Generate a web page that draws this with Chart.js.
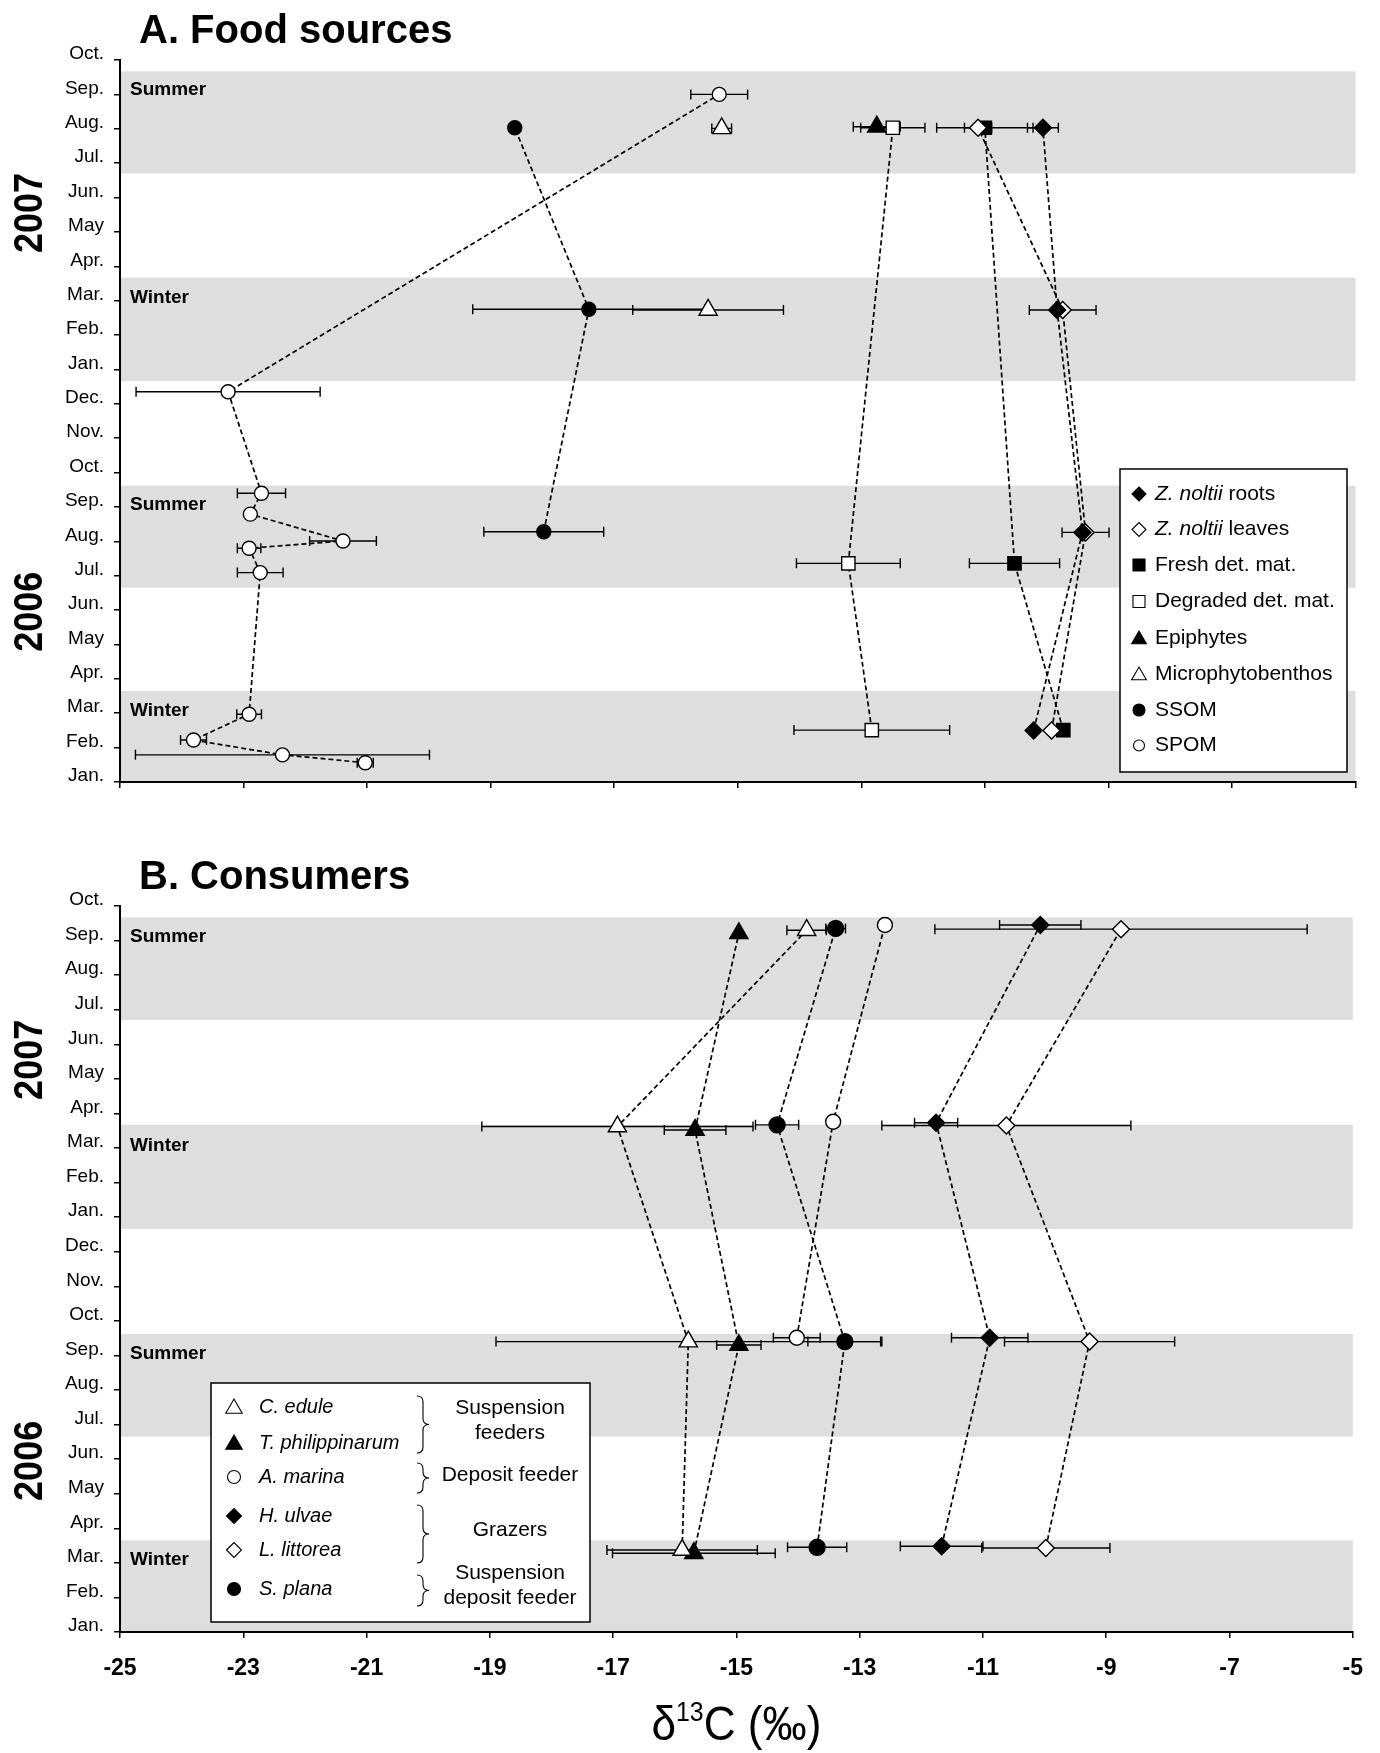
<!DOCTYPE html>
<html>
<head>
<meta charset="utf-8">
<script src="https://cdn.jsdelivr.net/npm/chart.js@4.4.1/dist/chart.umd.min.js"></script>
<style>
  html, body { margin: 0; padding: 0; background: #fff; }
  #wrap { position: relative; width: 1380px; height: 1753px; }
  canvas { position: absolute; left: 0; }
  #chartA { top: 0; }
  #chartB { top: 830px; }
</style>
</head>
<body>
<div id="wrap">
  <canvas id="chartA" width="1380" height="830"></canvas>
  <canvas id="chartB" width="1380" height="923"></canvas>
</div>
<script>
// —— axes ——
const monthLabels = ['Jan.','Feb.','Mar.','Apr.','May','Jun.','Jul.','Aug.','Sep.','Oct.','Nov.','Dec.',
                     'Jan.','Feb.','Mar.','Apr.','May','Jun.','Jul.','Aug.','Sep.','Oct.'];
const xMin = -25, xMax = -5, xStep = 2;

// seasons (month index, 0 = Jan. 2006)
const seasonFrom  = [0, 5.65, 11.66, 17.70];
const seasonTo    = [2.65, 8.62, 14.67, 20.67];
const seasonNames = ['Winter', 'Summer', 'Winter', 'Summer'];
const seasonLabelAt = [2.08, 8.05, 14.07, 20.12];
const yearNames = ['2006', '2007'];
const yearLabelAt = [4.95, 16.55];

// —— A. Food sources ——
const rootsMonth    = [1.50, 7.26, 13.73, 19.03];
const rootsD13C     = [-10.21, -9.42, -9.83, -10.06];
const rootsSD       = [0, 0, 0, 0.25];
const leavesMonth   = [1.50, 7.26, 13.73, 19.03];
const leavesD13C    = [-9.92, -9.37, -9.74, -11.11];
const leavesSD      = [0, 0.38, 0.54, 0.22];
const freshMonth    = [1.51, 6.36, 19.03];
const freshD13C     = [-9.73, -10.52, -11.00];
const freshSD       = [0, 0.73, 0.78];
const degradedMonth = [1.51, 6.36, 19.03];
const degradedD13C  = [-12.83, -13.21, -12.49];
const degradedSD    = [1.26, 0.84, 0.52];
const epiMonth      = [19.06];
const epiD13C       = [-12.75];
const epiSD         = [0.38];
const mpbMonth      = [13.73, 19.01];
const mpbD13C       = [-15.48, -15.26];
const mpbSD         = [1.22, 0.16];
const ssomMonth     = [7.28, 13.75, 19.03];
const ssomD13C      = [-18.14, -17.41, -18.61];
const ssomSD        = [0.97, 1.88, 0];
const spomMonth     = [0.56, 0.79, 1.22, 1.97, 6.09, 6.80, 7.01, 7.79, 8.40, 11.35, 20.00];
const spomD13C      = [-21.03, -22.37, -23.81, -22.91, -22.73, -22.91, -21.39, -22.89, -22.71, -23.25, -15.30];
const spomSD        = [0.13, 2.38, 0.21, 0.20, 0.37, 0.19, 0.54, 0, 0.39, 1.49, 0.46];

// —— B. Consumers ——
const eduleMonth    = [2.37, 8.40, 14.62, 20.30];
const eduleD13C     = [-15.88, -15.78, -16.93, -13.86];
const eduleSD       = [1.22, 3.12, 2.20, 0.32];
const philMonth     = [2.28, 8.30, 14.52, 20.21];
const philD13C      = [-15.69, -14.96, -15.67, -14.96];
const philSD        = [1.32, 0.36, 0.50, 0];
const marinaMonth   = [8.51, 14.76, 20.45];
const marinaD13C    = [-14.02, -13.43, -12.59];
const marinaSD      = [0.38, 0, 0];
const ulvaeMonth    = [2.48, 8.51, 14.73, 20.45];
const ulvaeD13C     = [-11.67, -10.89, -11.76, -10.07];
const ulvaeSD       = [0.67, 0.62, 0.35, 0.66];
const littoreaMonth = [2.43, 8.40, 14.65, 20.33];
const littoreaD13C  = [-9.98, -9.27, -10.62, -8.76];
const littoreaSD    = [1.04, 1.38, 2.02, 3.02];
const planaMonth    = [2.45, 8.40, 14.67, 20.35];
const planaD13C     = [-13.69, -13.24, -14.34, -13.39];
const planaSD       = [0.48, 0.60, 0.35, 0.16];

const FONT = '"Liberation Sans", Arial, Helvetica, sans-serif';

function makeSet(parts, months, vals, sds, shape, filled, r, joined) {
  return {
    label: parts.map(p => p[0]).join(''),
    legendParts: parts,
    shape: shape, filled: filled,
    data: months.map((m, i) => ({ x: vals[i], y: m })),
    errX: sds,
    showLine: joined,
    borderColor: '#000',
    borderWidth: 1.7,
    borderDash: [5, 3],
    tension: 0,
    pointStyle: shape,
    pointRadius: r,
    pointHoverRadius: r,
    pointBackgroundColor: filled ? '#000' : '#fff',
    pointBorderColor: '#000',
    pointBorderWidth: 1.4
  };
}

const foodSets = [
  makeSet([['Z. noltii', 1], [' roots', 0]], rootsMonth, rootsD13C, rootsSD, 'rectRot', true, 8.5, true),
  makeSet([['Z. noltii', 1], [' leaves', 0]], leavesMonth, leavesD13C, leavesSD, 'rectRot', false, 8.5, true),
  makeSet([['Fresh det. mat.', 0]], freshMonth, freshD13C, freshSD, 'rect', true, 9.4, true),
  makeSet([['Degraded det. mat.', 0]], degradedMonth, degradedD13C, degradedSD, 'rect', false, 9.4, true),
  makeSet([['Epiphytes', 0]], epiMonth, epiD13C, epiSD, 'triangle', true, 10.5, false),
  makeSet([['Microphytobenthos', 0]], mpbMonth, mpbD13C, mpbSD, 'triangle', false, 10.5, false),
  makeSet([['SSOM', 0]], ssomMonth, ssomD13C, ssomSD, 'circle', true, 7, true),
  makeSet([['SPOM', 0]], spomMonth, spomD13C, spomSD, 'circle', false, 7, true)
];

const consumerSets = [
  makeSet([['C. edule', 1]], eduleMonth, eduleD13C, eduleSD, 'triangle', false, 10.5, true),
  makeSet([['T. philippinarum', 1]], philMonth, philD13C, philSD, 'triangle', true, 10.5, true),
  makeSet([['A. marina', 1]], marinaMonth, marinaD13C, marinaSD, 'circle', false, 7.5, true),
  makeSet([['H. ulvae', 1]], ulvaeMonth, ulvaeD13C, ulvaeSD, 'rectRot', true, 8.5, true),
  makeSet([['L. littorea', 1]], littoreaMonth, littoreaD13C, littoreaSD, 'rectRot', false, 8.5, true),
  makeSet([['S. plana', 1]], planaMonth, planaD13C, planaSD, 'circle', true, 8, true)
];

// —— small drawing helpers ——
function marker(ctx, shape, filled, x, y, r) {
  ctx.beginPath();
  if (shape === 'circle') {
    ctx.arc(x, y, r, 0, Math.PI * 2);
  } else if (shape === 'rectRot') {
    ctx.moveTo(x - r, y); ctx.lineTo(x, y - r); ctx.lineTo(x + r, y); ctx.lineTo(x, y + r); ctx.closePath();
  } else if (shape === 'rect') {
    const s = r * Math.SQRT1_2;
    ctx.rect(x - s, y - s, 2 * s, 2 * s);
  } else {
    ctx.moveTo(x, y - r); ctx.lineTo(x + r * 0.866, y + r / 2); ctx.lineTo(x - r * 0.866, y + r / 2); ctx.closePath();
  }
  ctx.fillStyle = filled ? '#000' : '#fff';
  ctx.fill();
  ctx.lineWidth = 1.1;
  ctx.strokeStyle = '#000';
  ctx.stroke();
}

function drawParts(ctx, parts, x, y, size) {
  parts.forEach(([t, it]) => {
    ctx.font = (it ? 'italic ' : '') + size + 'px ' + FONT;
    ctx.fillText(t, x, y);
    x += ctx.measureText(t).width;
  });
}

function brace(ctx, x, y0, y1, w) {
  const ym = (y0 + y1) / 2, r = w / 2;
  ctx.beginPath();
  ctx.moveTo(x, y0);
  ctx.quadraticCurveTo(x + r, y0, x + r, y0 + 6);
  ctx.lineTo(x + r, ym - 6);
  ctx.quadraticCurveTo(x + r, ym, x + w, ym);
  ctx.quadraticCurveTo(x + r, ym, x + r, ym + 6);
  ctx.lineTo(x + r, y1 - 6);
  ctx.quadraticCurveTo(x + r, y1, x, y1);
  ctx.stroke();
}

function legendBox(ctx, x0, y0, x1, y1) {
  ctx.fillStyle = '#fff';
  ctx.fillRect(x0, y0, x1 - x0, y1 - y0);
  ctx.lineWidth = 1.5;
  ctx.strokeStyle = '#000';
  ctx.strokeRect(x0, y0, x1 - x0, y1 - y0);
}

function drawFoodLegend(chart) {
  const ctx = chart.ctx;
  ctx.save();
  legendBox(ctx, 1120, 469, 1347, 772);
  const rows = [494, 529.5, 565, 601.5, 638, 674, 710, 745.5];
  const sizes = { rectRot: 7, rect: 8.5, triangle: 8.5, circle: 6 };
  ctx.textAlign = 'left';
  ctx.textBaseline = 'middle';
  chart.data.datasets.forEach((ds, i) => {
    const r = ds.shape === 'circle' && !ds.filled ? 5.5 : sizes[ds.shape];
    marker(ctx, ds.shape, ds.filled, 1139, rows[i] + (ds.shape === 'triangle' ? 1.5 : 0), r);
    ctx.fillStyle = '#000';
    drawParts(ctx, ds.legendParts, 1155, rows[i], 21);
  });
  ctx.restore();
}

function drawConsumerLegend(chart) {
  const ctx = chart.ctx;
  const off = 830;
  ctx.save();
  legendBox(ctx, 211, 1383 - off, 590, 1622 - off);
  const rows = [1407, 1443, 1477, 1516, 1550, 1589];
  const sizes = { rectRot: 7.5, triangle: 9.5, circle: 6.5 };
  ctx.textAlign = 'left';
  ctx.textBaseline = 'middle';
  chart.data.datasets.forEach((ds, i) => {
    marker(ctx, ds.shape, ds.filled, 234, rows[i] - off + (ds.shape === 'triangle' ? 1.5 : 0), sizes[ds.shape]);
    ctx.fillStyle = '#000';
    drawParts(ctx, ds.legendParts, 259, rows[i] - off, 20);
  });
  ctx.lineWidth = 1.1;
  ctx.strokeStyle = '#000';
  brace(ctx, 417, 1396 - off, 1453 - off, 12);
  brace(ctx, 417, 1463 - off, 1493 - off, 12);
  brace(ctx, 417, 1505 - off, 1563 - off, 12);
  brace(ctx, 417, 1575 - off, 1606 - off, 12);
  ctx.font = '21px ' + FONT;
  ctx.textAlign = 'center';
  ctx.fillStyle = '#000';
  ctx.fillText('Suspension', 510, 1408 - off);
  ctx.fillText('feeders', 510, 1433 - off);
  ctx.fillText('Deposit feeder', 510, 1475 - off);
  ctx.fillText('Grazers', 510, 1530 - off);
  ctx.fillText('Suspension', 510, 1573 - off);
  ctx.fillText('deposit feeder', 510, 1598 - off);

  // x axis title with superscript
  const a = chart.chartArea;
  const cx = (a.left + a.right) / 2;
  const base = 910;
  const sx = 0.92;
  const big = '48px ' + FONT, small = '27px ' + FONT;
  ctx.font = big;
  const w1 = ctx.measureText('δ').width;
  const w3 = ctx.measureText('C (‰)').width;
  ctx.font = small;
  const w2 = ctx.measureText('13').width;
  const total = (w1 + w2 + w3) * sx;
  ctx.translate(cx - total / 2, base);
  ctx.scale(sx, 1);
  ctx.textAlign = 'left';
  ctx.textBaseline = 'alphabetic';
  ctx.font = big;
  ctx.fillText('δ', 0, 0);
  ctx.font = small;
  ctx.fillText('13', w1, -19);
  ctx.font = big;
  ctx.fillText('C (‰)', w1 + w2, 0);
  ctx.restore();
}

// —— per-panel plugin: season bands, labels, error bars, title, legend ——
function panelPlugin(title, extra) {
  return {
    id: 'panel',
    beforeDraw(chart) {
      const { ctx, chartArea: a, scales: { y } } = chart;
      ctx.save();
      ctx.fillStyle = '#fff';
      ctx.fillRect(0, 0, chart.width, chart.height);
      ctx.fillStyle = '#dedede';
      seasonFrom.forEach((f, i) => {
        const top = y.getPixelForValue(seasonTo[i]);
        const bot = y.getPixelForValue(f);
        ctx.fillRect(a.left, top, a.right - a.left, bot - top);
      });
      ctx.fillStyle = '#000';
      ctx.font = 'bold 19px ' + FONT;
      ctx.textAlign = 'left';
      ctx.textBaseline = 'middle';
      seasonNames.forEach((s, i) => ctx.fillText(s, a.left + 10, y.getPixelForValue(seasonLabelAt[i])));
      // years, rotated
      ctx.font = 'bold 40px ' + FONT;
      ctx.textAlign = 'center';
      ctx.textBaseline = 'alphabetic';
      yearNames.forEach((t, i) => {
        ctx.save();
        ctx.translate(42, y.getPixelForValue(yearLabelAt[i]));
        ctx.rotate(-Math.PI / 2);
        ctx.scale(0.9, 1);
        ctx.fillText(t, 0, 0);
        ctx.restore();
      });
      ctx.restore();
    },
    beforeDatasetsDraw(chart) {
      const { ctx, scales: { x, y } } = chart;
      ctx.save();
      ctx.strokeStyle = '#000';
      ctx.lineWidth = 1.4;
      chart.data.datasets.forEach(ds => {
        ds.data.forEach((p, i) => {
          const e = ds.errX[i];
          if (!e) return;
          const x0 = x.getPixelForValue(p.x - e), x1 = x.getPixelForValue(p.x + e);
          const py = y.getPixelForValue(p.y);
          ctx.beginPath();
          ctx.moveTo(x0, py); ctx.lineTo(x1, py);
          ctx.moveTo(x0, py - 5); ctx.lineTo(x0, py + 5);
          ctx.moveTo(x1, py - 5); ctx.lineTo(x1, py + 5);
          ctx.stroke();
        });
      });
      ctx.restore();
    },
    afterDraw(chart) {
      const ctx = chart.ctx;
      const a = chart.chartArea;
      ctx.save();
      ctx.fillStyle = '#000';
      ctx.font = 'bold 40px ' + FONT;
      ctx.textAlign = 'left';
      ctx.textBaseline = 'alphabetic';
      ctx.fillText(title, 139, a.top - 17);
      ctx.restore();
      extra(chart);
    }
  };
}

function makeOptions(showX, padTop, padBottom, xAxisH) {
  const axisGrid = { drawOnChartArea: false, drawTicks: true, tickLength: 6, color: '#000', lineWidth: 1.5 };
  const axisBorder = { display: true, color: '#000', width: 2 };
  return {
    responsive: false,
    animation: false,
    devicePixelRatio: 1,
    layout: { padding: { left: 0, right: 24.5, top: padTop, bottom: padBottom } },
    plugins: {
      legend: { display: false },
      tooltip: { enabled: false }
    },
    scales: {
      x: {
        type: 'linear', min: xMin, max: xMax,
        ticks: {
          stepSize: xStep, maxRotation: 0, autoSkip: false, padding: 17,
          callback: v => showX ? String(v) : '',
          font: { family: FONT, size: 23, weight: 'bold' }, color: '#000'
        },
        grid: axisGrid, border: axisBorder,
        afterFit(s) { s.height = xAxisH; }
      },
      y: {
        type: 'linear', min: 0, max: 21,
        ticks: {
          stepSize: 1, autoSkip: false, maxTicksLimit: 40, padding: 10, labelOffset: -6,
          callback: v => monthLabels[Math.round(v)],
          font: { family: FONT, size: 19 }, color: '#000'
        },
        grid: axisGrid, border: axisBorder,
        afterFit(s) { s.width = 120; }
      }
    }
  };
}

document.addEventListener('DOMContentLoaded', () => {
  new Chart(document.getElementById('chartA'), {
    type: 'scatter',
    data: { datasets: foodSets },
    options: makeOptions(false, 60, 38, 10),
    plugins: [panelPlugin('A. Food sources', drawFoodLegend)]
  });
  new Chart(document.getElementById('chartB'), {
    type: 'scatter',
    data: { datasets: consumerSets },
    options: makeOptions(true, 76, 61, 60),
    plugins: [panelPlugin('B. Consumers', drawConsumerLegend)]
  });
});
</script>
</body>
</html>
